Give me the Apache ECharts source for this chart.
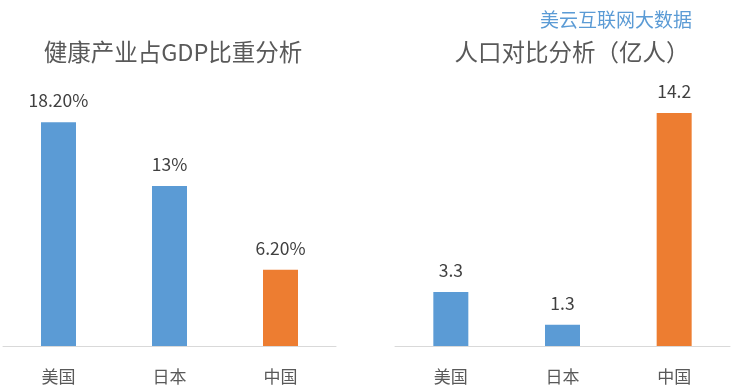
<!DOCTYPE html>
<html><head><meta charset="utf-8">
<script src="https://cdn.jsdelivr.net/npm/echarts@6/dist/echarts.min.js"></script>
<style>html,body{margin:0;padding:0;background:#fff}#c{width:734px;height:392px}</style>
</head><body><div id="c"></div>
<script>
const categories = ['美国', '日本', '中国'];
const gdpShare = [18.2, 13, 6.2];
const gdpLabels = ['18.20%', '13%', '6.20%'];
const population = [3.3, 1.3, 14.2];
const popLabels = ['3.3', '1.3', '14.2'];
const barColors = ['#5B9BD5', '#5B9BD5', '#ED7D31'];
const titles = ['健康产业占GDP比重分析', '人口对比分析（亿人）'];
const watermark = '美云互联网大数据';

const FONT = '"Noto Sans CJK SC", "Microsoft YaHei", sans-serif';
const chart = echarts.init(document.getElementById('c'));

function mkData(vals, labels) {
  return vals.map((v, i) => ({
    value: v,
    itemStyle: { color: barColors[i] },
    label: { formatter: labels[i] }
  }));
}

const axisCommon = {
  type: 'category',
  data: categories,
  axisLine: { lineStyle: { color: '#d9d9d9', width: 1 } },
  axisTick: { show: false },
  axisLabel: { color: '#595959', fontSize: 17, fontFamily: FONT, margin: 22 }
};
const yCommon = { type: 'value', min: 0, show: false, splitLine: { show: false } };
const labelCommon = { show: true, position: 'top', distance: 13, color: '#404040', fontSize: 17.5, fontFamily: FONT };

chart.setOption({
  animation: false,
  title: [
    { text: titles[0], left: 168, top: 35, textAlign: 'center',
      textStyle: { color: '#595959', fontSize: 23.5, fontWeight: 'normal', fontFamily: FONT } },
    { text: titles[1], left: 567, top: 35, textAlign: 'center',
      textStyle: { color: '#595959', fontSize: 23.5, fontWeight: 'normal', fontFamily: FONT } },
    { text: watermark, left: 611, top: 5, textAlign: 'center',
      textStyle: { color: '#5B9BD5', fontSize: 19, fontWeight: 'normal', fontFamily: FONT } }
  ],
  grid: [
    { left: 3, width: 333, top: 100, height: 246 },
    { left: 395, width: 335, top: 100, height: 246 }
  ],
  xAxis: [
    Object.assign({ gridIndex: 0 }, axisCommon),
    Object.assign({ gridIndex: 1 }, axisCommon)
  ],
  yAxis: [
    Object.assign({ gridIndex: 0, max: 20 }, yCommon),
    Object.assign({ gridIndex: 1, max: 15 }, yCommon)
  ],
  series: [
    { type: 'bar', xAxisIndex: 0, yAxisIndex: 0, barWidth: 35,
      data: mkData(gdpShare, gdpLabels), label: labelCommon },
    { type: 'bar', xAxisIndex: 1, yAxisIndex: 1, barWidth: 35,
      data: mkData(population, popLabels), label: labelCommon }
  ]
});
</script></body></html>
